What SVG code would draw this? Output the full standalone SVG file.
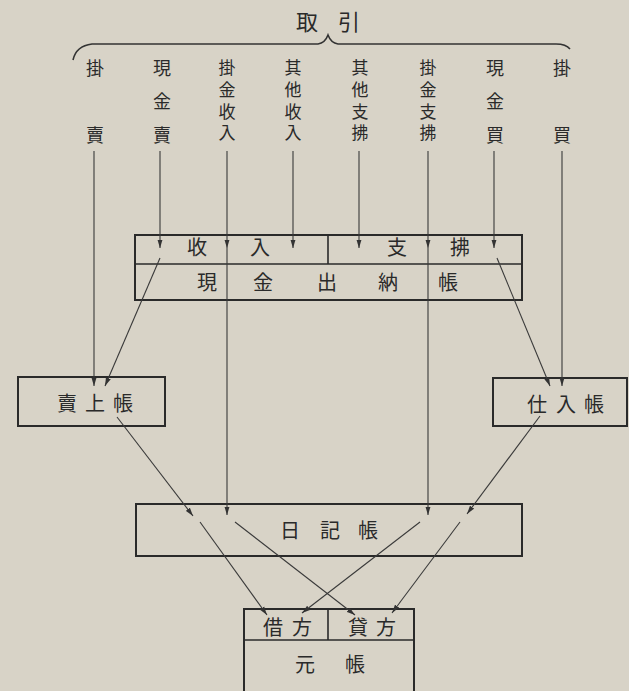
<svg xmlns="http://www.w3.org/2000/svg" width="629" height="691" viewBox="0 0 629 691">
<style>
.bg{fill:#d8d3c7}
.box{fill:none;stroke:#2a2a2a;stroke-width:2}
.div{stroke:#2a2a2a;stroke-width:1.6;fill:none}
.t{font-family:"Noto Sans CJK JP","Noto Sans CJK TC",sans-serif;fill:#2a2a2a;text-anchor:middle}
.lab{font-size:18px}
.lab4{font-size:17px}
.bl{font-size:20px}
.ttl{font-size:22px}
.c line{stroke:#3a3a3a;stroke-width:1.1;marker-end:url(#ah)}
.brace{fill:none;stroke:#333;stroke-width:1.6}
</style>
<defs>
<marker id="ah" markerUnits="userSpaceOnUse" markerWidth="9" markerHeight="6" refX="8.5" refY="3" orient="auto">
<path d="M0,0.4 L8.5,3 L0,5.6 z" fill="#333"/>
</marker>
</defs>
<rect class="bg" x="0" y="0" width="629" height="691"/>

<g id="title">
<text class="t ttl" x="307 349" y="30">取引</text>
<path class="brace" d="M73,60 Q76,46 92,44 L318,44 Q325,43 328,35 Q331,43 338,44 L556,44 Q566,44 570,49"/>
</g>

<g id="labels">
<text class="t lab" x="95 95" y="75 142">掛賣</text>
<text class="t lab" x="162 162 162" y="75 108 142">現金賣</text>
<text class="t lab4" x="227 227 227 227" y="74 95.5 117.5 139">掛金收入</text>
<text class="t lab4" x="293 293 293 293" y="74 95.5 117.5 139">其他收入</text>
<text class="t lab4" x="360 360 360 360" y="74 95.5 117.5 139">其他支拂</text>
<text class="t lab4" x="428 428 428 428" y="74 95.5 117.5 139">掛金支拂</text>
<text class="t lab" x="495 495 495" y="75 108 142">現金買</text>
<text class="t lab" x="562 562" y="75 142">掛買</text>
</g>

<g id="cashbook">
<rect class="box" x="135" y="235" width="387" height="65"/>
<line class="div" x1="135" y1="264" x2="522" y2="264"/>
<line class="div" x1="328" y1="235" x2="328" y2="264"/>
<text class="t bl" x="197 260 397 460" y="255">收入支拂</text>
<text class="t bl" x="207 263 327 388 448" y="290">現金出納帳</text>
</g>

<g id="salesbook">
<rect class="box" x="18" y="377" width="147" height="49"/>
<text class="t bl" x="67 95 123" y="410.5">賣上帳</text>
</g>

<g id="purchasebook">
<rect class="box" x="493" y="378" width="134" height="48"/>
<text class="t bl" x="537 566 594" y="412">仕入帳</text>
</g>

<g id="journal">
<rect class="box" x="136" y="504" width="386" height="52"/>
<text class="t bl" x="290 330 368" y="537.5">日記帳</text>
</g>

<g id="ledger">
<rect class="box" x="244" y="609" width="170" height="95"/>
<line class="div" x1="244" y1="640" x2="414" y2="640"/>
<line class="div" x1="328" y1="609" x2="328" y2="640"/>
<text class="t bl" x="273 302 358 386" y="635">借方貸方</text>
<text class="t bl" x="305 355" y="672">元帳</text>
</g>

<g id="connectors" class="c">
<line x1="94" y1="151" x2="94" y2="386"/>
<line x1="160" y1="151" x2="160" y2="248"/>
<line x1="227" y1="151" x2="227" y2="248"/>
<line x1="227" y1="248" x2="227" y2="515"/>
<line x1="293" y1="151" x2="293" y2="248"/>
<line x1="359" y1="151" x2="359" y2="248"/>
<line x1="428" y1="151" x2="428" y2="248"/>
<line x1="428" y1="248" x2="428" y2="515"/>
<line x1="494" y1="151" x2="494" y2="248"/>
<line x1="562" y1="151" x2="562" y2="386"/>
<line x1="160" y1="258" x2="105" y2="386"/>
<line x1="497" y1="258" x2="550" y2="386"/>
<line x1="117" y1="417" x2="193" y2="516"/>
<line x1="540" y1="416" x2="467" y2="514"/>
<line x1="200" y1="522" x2="267" y2="615"/>
<line x1="235" y1="522" x2="355" y2="615"/>
<line x1="420" y1="522" x2="302" y2="613"/>
<line x1="460" y1="522" x2="392" y2="613"/>
</g>
</svg>
